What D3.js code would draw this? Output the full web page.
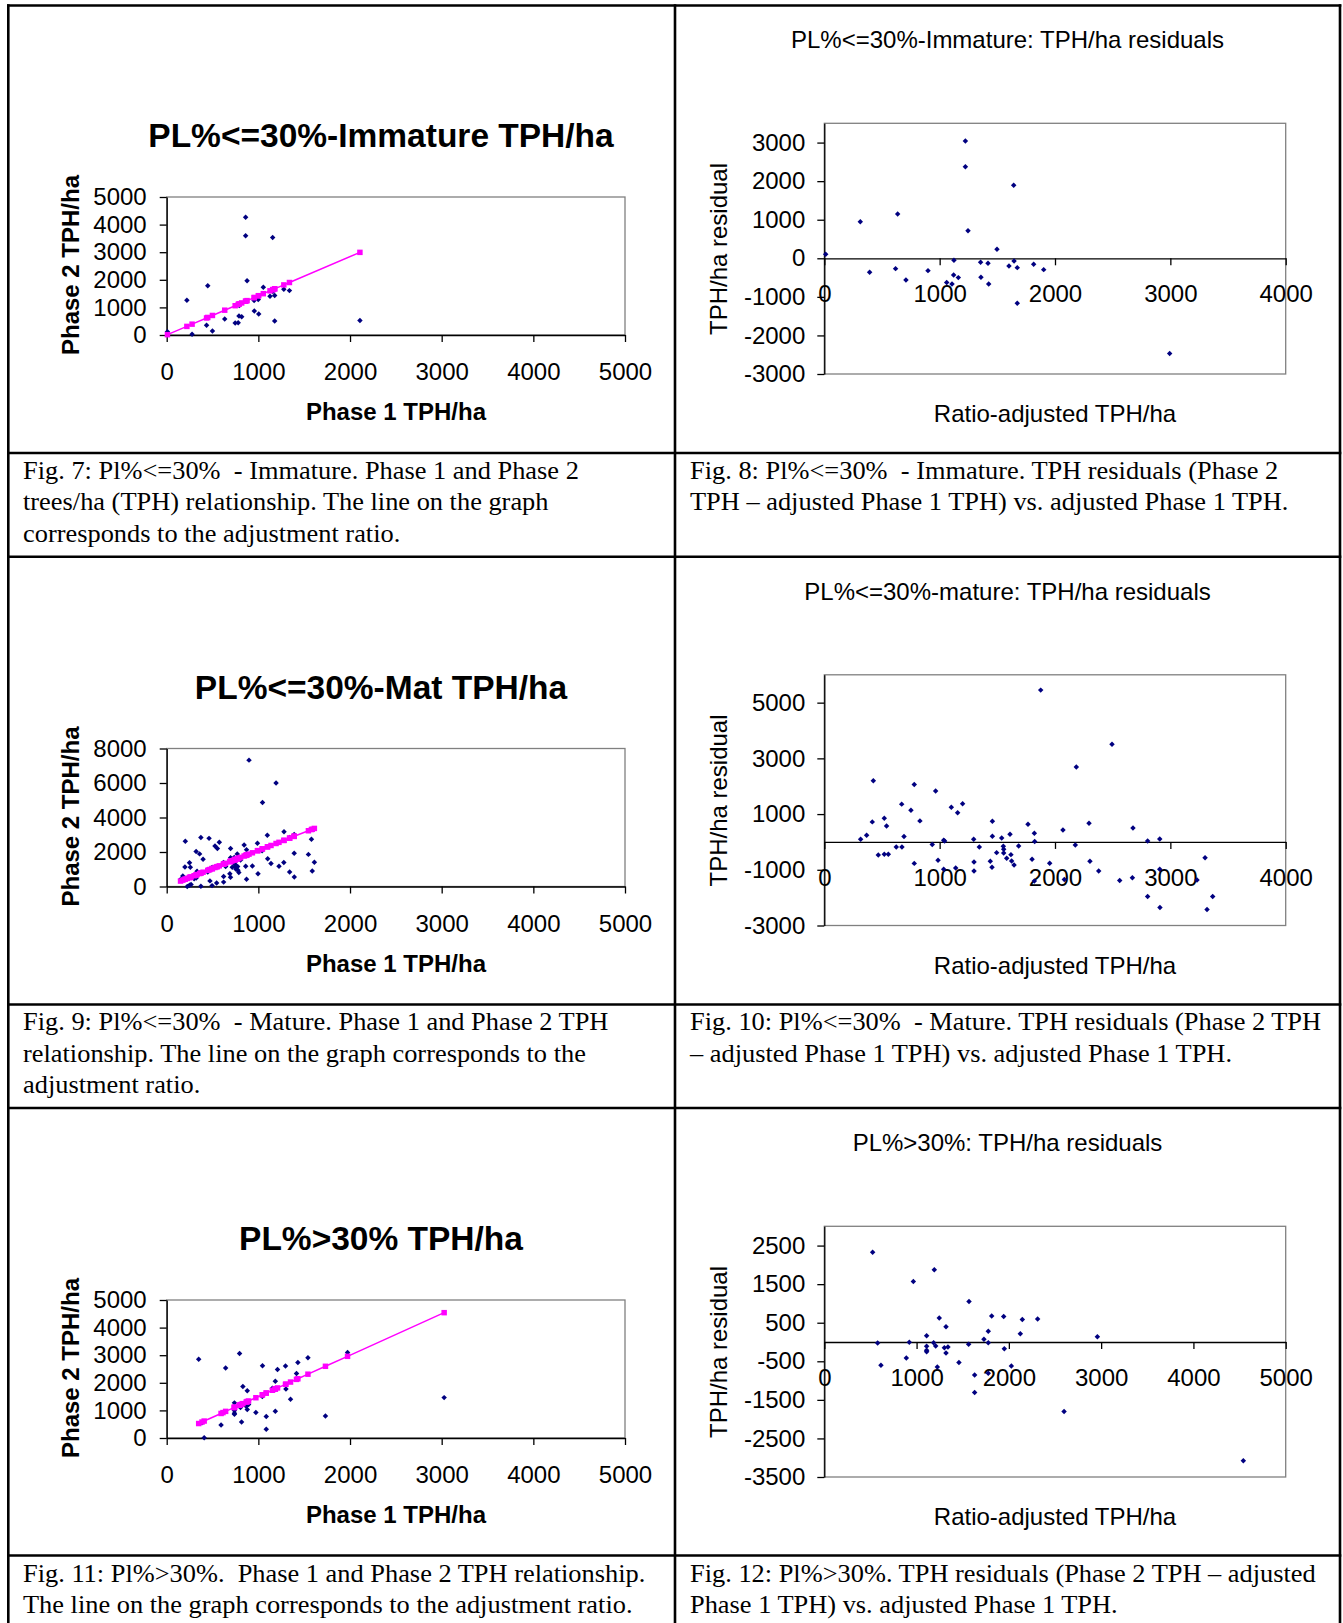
<!DOCTYPE html>
<html><head><meta charset="utf-8">
<script src="https://cdn.jsdelivr.net/npm/d3@7"></script>
<style>body{margin:0;background:#fff}svg{display:block}</style>
</head><body>
<svg id="chart" width="1343" height="1623"></svg>
<script>
// ---------- DATA ----------
// PL%<=30% Immature (Fig. 7 / Fig. 8)
const immPhase1   = [8,220,277,435,448,499,633,747,780,789,792,818,861,861,877,954,956,999,1004,1054,1127,1156,1158,1178,1178,1278,1339,2108];
const immPhase2   = [116,1262,30,350,1785,147,579,431,442,689,1072,661,4263,3598,1963,1251,866,1289,760,1730,1402,3533,1576,1431,507,1660,1608,524];
const immAdjusted = [12,312,393,618,636,708,899,1061,1107,1121,1124,1162,1223,1223,1246,1355,1358,1419,1425,1497,1601,1642,1645,1673,1673,1815,1902,2994];
const immResidual = [104,950,-363,-268,1149,-561,-320,-630,-665,-432,-52,-501,3040,2375,717,-104,-492,-130,-665,233,-199,1891,-69,-242,-1166,-155,-294,-2470];

// PL%<=30% Mature (Fig. 9 / Fig. 10)
const matPhase1 = [151,176,199,203,224,249,249,258,266,299,
  321,322,331,359,373,373,397,448,462,472,
  495,499,495,527,545,553,574,620,621,621,
  643,689,697,697,696,715,736,743,744,744,
  756,770,774,777,787,806,845,862,871,873,
  871,898,935,990,996,1041,1045,1098,1102,1138,
  1193,1225,1278,1280,1341,1341,1391,1391,1392,1546,
  1579,1588,1611];
const matPhase2 = [411,607,1136,2622,0,1372,76,1116,111,444,
  2028,493,883,1891,2845,10,1585,840,2790,326,
  1095,1079,51,2349,203,2200,2568,1391,578,254,
  1164,743,2201,1661,542,1110,1682,1396,1291,1159,
  993,1886,1162,940,817,1541,2402,1177,2133,1836,
  416,7326,1186,2501,736,2068,4874,2967,1607,1335,
  5999,1180,1386,3180,2839,846,3016,1924,557,1862,
  2737,893,1410];
const matAdjusted = [315,367,416,425,468,520,520,540,555,624,
  671,673,691,751,780,780,829,936,965,986,
  1035,1043,1035,1101,1139,1156,1199,1295,1298,1298,
  1344,1439,1457,1457,1454,1494,1538,1552,1555,1555,
  1581,1610,1618,1624,1645,1685,1766,1801,1821,1824,
  1821,1876,1954,2069,2081,2176,2185,2295,2303,2379,
  2494,2561,2671,2676,2803,2803,2908,2908,2910,3231,
  3301,3318,3367];
const matResidual = [96,240,720,2197,-468,852,-444,576,-444,-180,
  1357,-180,192,1140,2065,-770,756,-96,1825,-660,
  60,36,-984,1248,-936,1044,1369,96,-720,-1044,
  -180,-696,744,204,-912,-384,144,-156,-264,-396,
  -588,276,-456,-684,-828,-144,636,-624,312,12,
  -1405,5450,-768,432,-1345,-108,2689,672,-696,-1044,
  3505,-1381,-1285,504,36,-1957,108,-984,-2353,-1369,
  -564,-2425,-1957];

// PL%>30% (Fig. 11 / Fig. 12)
const hiPhase1   = [349,385,409,593,614,643,739,739,739,739,790,795,805,817,831,867,879,879,893,973,1043,1045,1086,1086,1153,1185,1185,1185,1209,1296,1301,1351,1416,1431,1541,1732,1973,3027];
const hiPhase2   = [2852,552,11,475,912,2534,1273,997,893,859,1168,3063,1104,578,1867,1154,1716,1035,1211,925,1504,2620,776,319,1799,2053,1760,967,2486,2608,1779,1406,2340,2732,2907,796,3097,1463];
const hiAdjusted = [524,578,614,889,921,965,1109,1109,1109,1109,1185,1192,1207,1225,1246,1301,1319,1319,1340,1459,1564,1568,1629,1629,1730,1777,1777,1777,1814,1944,1951,2027,2124,2146,2312,2598,2959,4541];
const hiResidual = [2328,-26,-603,-414,-9,1569,164,-112,-216,-250,-17,1871,-103,-647,621,-147,397,-284,-129,-534,-60,1052,-853,-1310,69,276,-17,-810,672,664,-172,-621,216,586,595,-1802,138,-3078];

// Ticks
const phaseXTicks = [0,1000,2000,3000,4000,5000];
const immYTicks = [0,1000,2000,3000,4000,5000];
const matYTicks = [0,2000,4000,6000,8000];
const hiYTicks = [0,1000,2000,3000,4000,5000];
const immResidYTicks = [-3000,-2000,-1000,0,1000,2000,3000];
const matResidYTicks = [-3000,-1000,1000,3000,5000];
const hiResidYTicks = [-3500,-2500,-1500,-500,500,1500,2500];
const immResidXTicks = [0,1000,2000,3000,4000];
const matResidXTicks = [0,1000,2000,3000,4000];
const hiResidXTicks = [0,1000,2000,3000,4000,5000];

// Texts
const leftTitles = ["PL%<=30%-Immature TPH/ha","PL%<=30%-Mat TPH/ha","PL%>30% TPH/ha"];
const rightTitles = ["PL%<=30%-Immature: TPH/ha residuals","PL%<=30%-mature: TPH/ha residuals","PL%>30%: TPH/ha residuals"];
const captionsLeft = [
  ["Fig. 7: Pl%<=30%  - Immature. Phase 1 and Phase 2","trees/ha (TPH) relationship. The line on the graph","corresponds to the adjustment ratio."],
  ["Fig. 9: Pl%<=30%  - Mature. Phase 1 and Phase 2 TPH","relationship. The line on the graph corresponds to the","adjustment ratio."],
  ["Fig. 11: Pl%>30%.  Phase 1 and Phase 2 TPH relationship.","The line on the graph corresponds to the adjustment ratio."]
];
const captionsRight = [
  ["Fig. 8: Pl%<=30%  - Immature. TPH residuals (Phase 2","TPH \u2013 adjusted Phase 1 TPH) vs. adjusted Phase 1 TPH."],
  ["Fig. 10: Pl%<=30%  - Mature. TPH residuals (Phase 2 TPH","\u2013 adjusted Phase 1 TPH) vs. adjusted Phase 1 TPH."],
  ["Fig. 12: Pl%>30%. TPH residuals (Phase 2 TPH \u2013 adjusted","Phase 1 TPH) vs. adjusted Phase 1 TPH."]
];

// ---------- DRAWING ----------
const SANS = "'Liberation Sans', Arial, Helvetica, sans-serif";
const SERIF = "'Liberation Serif', 'Times New Roman', serif";
const NAVY = "#000080", MAGENTA = "#FF00FF";
const svg = d3.select("#chart");
svg.append("rect").attr("width",1343).attr("height",1623).attr("fill","#fff");

const rowOff = [0, 551.5, 1103];
const fmt = d => String(d);

function styleAxis(g){
  g.attr("font-family", SANS).attr("font-size", 24);
  g.selectAll("text").attr("fill","#000");
  g.selectAll("line").attr("stroke","#000").attr("stroke-width",1.3);
  g.select(".domain").attr("stroke","#000").attr("stroke-width",1.3);
}

function drawDiamonds(g, xs, ys, x, y){
  const sym = d3.symbol().type(d3.symbolSquare).size(15);
  g.selectAll(null).data(xs.map((v,i)=>[v, ys[i]])).enter().append("path")
    .attr("d", sym)
    .attr("transform", d => `translate(${x(d[0])},${y(d[1])}) rotate(45)`)
    .attr("fill", NAVY);
}

function leftPanel(i, p1, p2, adj, yMax, yTicks){
  const oy = rowOff[i];
  const L=166.7, R=625, T=197+oy, B=335+oy;
  const x = d3.scaleLinear().domain([0,5000]).range([L,R]);
  const y = d3.scaleLinear().domain([0,yMax]).range([B,T]);
  const g = svg.append("g");
  g.append("rect").attr("x",L).attr("y",T).attr("width",R-L).attr("height",B-T)
    .attr("fill","none").attr("stroke","#808080").attr("stroke-width",1.3);
  g.append("g").attr("transform",`translate(0,${B})`)
    .call(d3.axisBottom(x).tickValues(phaseXTicks).tickSize(7).tickSizeOuter(0).tickPadding(21).tickFormat(fmt))
    .call(styleAxis);
  g.append("g").attr("transform",`translate(${L},0)`)
    .call(d3.axisLeft(y).tickValues(yTicks).tickSize(7).tickSizeOuter(0).tickPadding(13).tickFormat(fmt))
    .call(styleAxis);
  drawDiamonds(g, p1, p2, x, y);
  // adjustment ratio line
  const pts = p1.map((v,k)=>[v, adj[k]]).sort((a,b)=>a[0]-b[0]);
  g.append("path").datum(pts)
    .attr("d", d3.line().x(d=>x(d[0])).y(d=>y(d[1])))
    .attr("fill","none").attr("stroke",MAGENTA).attr("stroke-width",1.5);
  const sq = d3.symbol().type(d3.symbolSquare).size(30);
  g.selectAll(null).data(pts).enter().append("path")
    .attr("d", sq).attr("transform", d=>`translate(${x(d[0])},${y(d[1])})`)
    .attr("fill", MAGENTA);
  // texts
  g.append("text").attr("x",381).attr("y",147+oy).attr("text-anchor","middle")
    .attr("font-family",SANS).attr("font-weight","bold").attr("font-size",33.5).text(leftTitles[i]);
  g.append("text").attr("transform",`translate(79,${265+oy}) rotate(-90)`).attr("text-anchor","middle")
    .attr("font-family",SANS).attr("font-weight","bold").attr("font-size",24).text("Phase 2 TPH/ha");
  g.append("text").attr("x",396).attr("y",420+oy).attr("text-anchor","middle")
    .attr("font-family",SANS).attr("font-weight","bold").attr("font-size",24).text("Phase 1 TPH/ha");
}

function residPanel(i, adj, res, xMax, xTicks, yDom, yTicks){
  const oy = rowOff[i];
  const L=824.3, R=1285.7, T=123.3+oy, B=374+oy;
  const x = d3.scaleLinear().domain([0,xMax]).range([L,R]);
  const y = d3.scaleLinear().domain(yDom).range([B,T]);
  const g = svg.append("g");
  g.append("rect").attr("x",L).attr("y",T).attr("width",R-L).attr("height",B-T)
    .attr("fill","none").attr("stroke","#808080").attr("stroke-width",1.3);
  g.append("g").attr("transform",`translate(${L},0)`)
    .call(d3.axisLeft(y).tickValues(yTicks).tickSize(7).tickSizeOuter(0).tickPadding(12).tickFormat(fmt))
    .call(styleAxis);
  g.append("g").attr("transform",`translate(0,${y(0)})`)
    .call(d3.axisBottom(x).tickValues(xTicks).tickSize(7).tickSizeOuter(0).tickPadding(20).tickFormat(fmt))
    .call(styleAxis);
  drawDiamonds(g, adj, res, x, y);
  g.append("text").attr("x",1007.5).attr("y",48+oy).attr("text-anchor","middle")
    .attr("font-family",SANS).attr("font-size",24).text(rightTitles[i]);
  g.append("text").attr("transform",`translate(727,${249+oy}) rotate(-90)`).attr("text-anchor","middle")
    .attr("font-family",SANS).attr("font-size",24).text("TPH/ha residual");
  g.append("text").attr("x",1055).attr("y",422+oy).attr("text-anchor","middle")
    .attr("font-family",SANS).attr("font-size",24).text("Ratio-adjusted TPH/ha");
}

leftPanel(0, immPhase1, immPhase2, immAdjusted, 5000, immYTicks);
leftPanel(1, matPhase1, matPhase2, matAdjusted, 8000, matYTicks);
leftPanel(2, hiPhase1, hiPhase2, hiAdjusted, 5000, hiYTicks);
residPanel(0, immAdjusted, immResidual, 4000, immResidXTicks, [-3000,3500], immResidYTicks);
residPanel(1, matAdjusted, matResidual, 4000, matResidXTicks, [-3000,6000], matResidYTicks);
residPanel(2, hiAdjusted, hiResidual, 5000, hiResidXTicks, [-3500,3000], hiResidYTicks);

// captions
function captions(lines, x0, baseY){
  lines.forEach((t,k)=>{
    svg.append("text").attr("transform",`translate(${x0},${baseY + k*31.5}) scale(1.035,1)`)
      .attr("font-family",SERIF).attr("font-size",25.5).style("white-space","pre").attr("fill","#000").text(t);
  });
}
[478.5, 1030, 1581.5].forEach((b,i)=>{
  captions(captionsLeft[i], 23, b);
  captions(captionsRight[i], 690, b);
});

// table borders
const tb = svg.append("g").attr("stroke","#000").attr("stroke-width",2.6);
const hLines = [5.5, 453, 556.8, 1004.5, 1108, 1555.5];
hLines.forEach(yv => tb.append("line").attr("x1",7).attr("x2",1341.3).attr("y1",yv).attr("y2",yv));
[8.3, 675, 1340].forEach(xv => tb.append("line").attr("x1",xv).attr("x2",xv).attr("y1",4.2).attr("y2",1660));
</script>
</body></html>
